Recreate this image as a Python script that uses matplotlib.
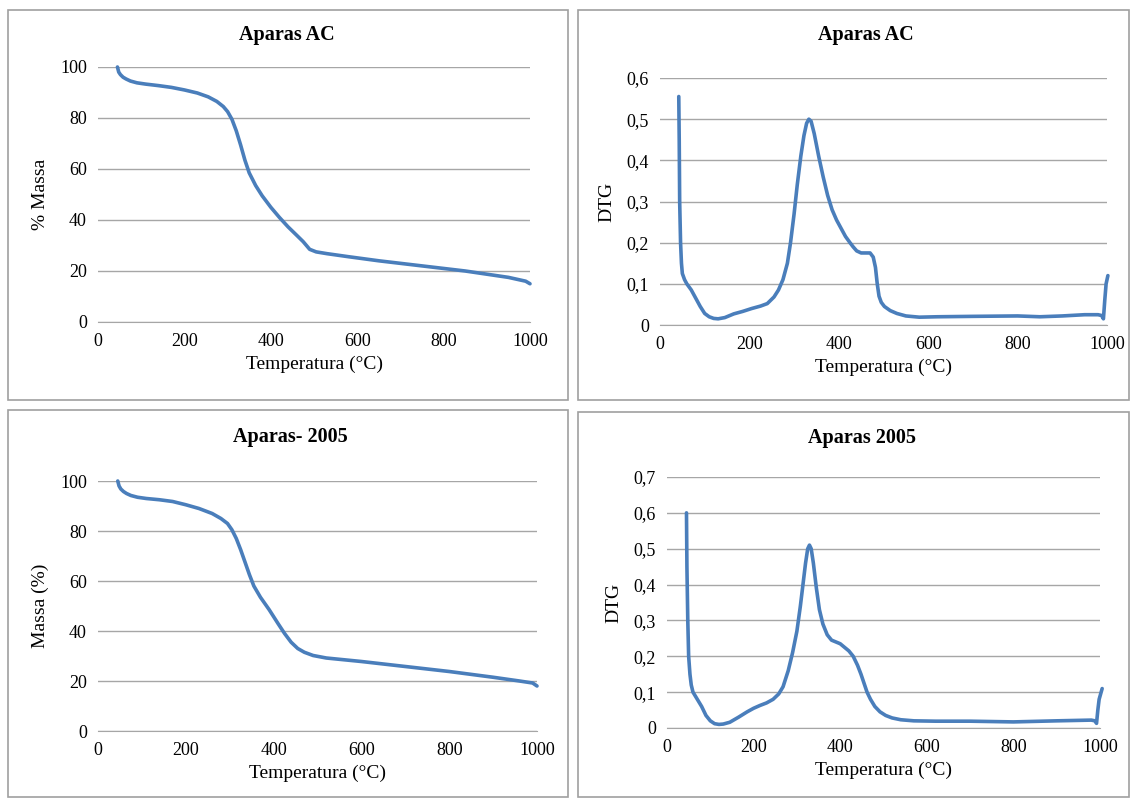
import numpy as np
import matplotlib.pyplot as plt
from matplotlib.patches import Rectangle

plt.rcParams['font.family'] = ['Liberation Serif', 'DejaVu Serif']

W, H = 1131, 798
blue = '#4a7ebb'
grid = '#a6a6a6'

# TGA - Aparas AC
t1 = [45, 48, 52, 58, 65, 75, 90, 110, 140, 170, 200, 230, 255, 275, 290, 300, 310, 320, 330,
      340, 350, 365, 380, 400, 420, 440, 460, 475, 490, 505, 530, 580, 650, 750, 850, 950, 990, 1000]
m1 = [100, 98, 97, 96, 95.3, 94.5, 93.8, 93.3, 92.7, 92, 91, 89.8, 88.3, 86.5, 84.5, 82.5, 79.5,
      75, 69.5, 63.5, 58.5, 53.5, 49.5, 45, 41, 37.3, 34, 31.5, 28.5, 27.5, 26.8, 25.6, 24, 22,
      20, 17.5, 16, 15]

# DTG - Aparas AC
t2 = [42, 43, 44, 46, 48, 50, 55, 60, 70, 80, 90, 100, 110, 120, 130, 145, 165, 185, 205, 225,
      240, 255, 265, 275, 285, 292, 300, 307, 315, 322, 328, 333, 338, 345, 355, 365, 375, 385,
      395, 405, 415, 425, 432, 440, 450, 460, 470, 477, 482, 486, 490, 495, 502, 515, 530, 550,
      580, 620, 700, 800, 850, 900, 950, 980, 988, 992, 995, 998, 1002]
d2 = [0.555, 0.45, 0.3, 0.2, 0.15, 0.125, 0.11, 0.1, 0.085, 0.065, 0.045, 0.028, 0.02, 0.016,
      0.015, 0.018, 0.027, 0.033, 0.04, 0.046, 0.052, 0.068, 0.085, 0.11, 0.15, 0.2, 0.27, 0.34,
      0.41, 0.46, 0.49, 0.5, 0.495, 0.465, 0.41, 0.36, 0.315, 0.28, 0.255, 0.235, 0.215, 0.2,
      0.19, 0.18, 0.175, 0.175, 0.175, 0.165, 0.14, 0.1, 0.07, 0.055, 0.045, 0.035, 0.028,
      0.022, 0.019, 0.02, 0.021, 0.022, 0.02, 0.022, 0.025, 0.025, 0.023, 0.015, 0.06, 0.1, 0.12]

# TGA - Aparas 2005
t3 = [45, 48, 52, 58, 65, 75, 90, 110, 140, 170, 200, 230, 260, 280, 295, 305, 315, 325, 335,
      345, 355, 370, 390, 410, 425, 440, 455, 470, 490, 520, 600, 700, 800, 900, 960, 990, 1000]
m3 = [100, 98, 96.8, 95.8, 95, 94.2, 93.5, 93, 92.5, 91.8, 90.5, 89, 87, 85, 83, 80.5, 77, 72.5,
      67.5, 62.5, 58, 53.5, 48.5, 43, 39, 35.5, 33, 31.5, 30.2, 29.2, 27.8, 25.8, 23.8, 21.5,
      20, 19.2, 18]

# DTG - Aparas 2005
t4 = [45, 46, 48, 50, 53, 56, 60, 70, 80, 90, 100, 110, 120, 130, 145, 165, 185, 200, 215, 230,
      245, 258, 268, 280, 290, 300, 308, 315, 320, 325, 329, 333, 338, 345, 352, 360, 370, 380,
      390, 400, 410, 420, 430, 440, 448, 455, 462, 470, 480, 492, 505, 520, 540, 570, 620, 700,
      800, 900, 980, 988, 992, 995, 998, 1005]
d4 = [0.6, 0.45, 0.3, 0.2, 0.15, 0.12, 0.1, 0.08, 0.06, 0.035, 0.02, 0.012, 0.01, 0.011, 0.016,
      0.03, 0.045, 0.055, 0.063, 0.07, 0.08, 0.095, 0.115, 0.16, 0.21, 0.27, 0.34, 0.41, 0.46,
      0.5, 0.51, 0.5, 0.46, 0.39, 0.33, 0.29, 0.26, 0.245, 0.24, 0.235, 0.225, 0.215, 0.2,
      0.175, 0.15, 0.125, 0.1, 0.08, 0.06, 0.045, 0.035, 0.028, 0.023, 0.02, 0.019, 0.019,
      0.017, 0.02, 0.022, 0.02, 0.013, 0.05, 0.08, 0.11]

titles = ['Aparas AC', 'Aparas AC', 'Aparas- 2005', 'Aparas 2005']
ylabels = ['% Massa', 'DTG', 'Massa (%)', 'DTG']
xlabel = 'Temperatura (°C)'
xticks = [0, 200, 400, 600, 800, 1000]
yticks_tga = [0, 20, 40, 60, 80, 100]
yticks_dtg1 = [0, 0.1, 0.2, 0.3, 0.4, 0.5, 0.6]
yticks_dtg2 = [0, 0.1, 0.2, 0.3, 0.4, 0.5, 0.6, 0.7]

fig = plt.figure(figsize=(W / 100, H / 100), dpi=100)

# panel frames (pixels: x0, y0, x1, y1)
frames = [(8, 10, 568, 400), (578, 10, 1129, 400), (8, 410, 568, 797), (578, 412, 1129, 797)]
for x0, y0, x1, y1 in frames:
    fig.patches.append(Rectangle((x0 / W, 1 - y1 / H), (x1 - x0) / W, (y1 - y0) / H,
                                 transform=fig.transFigure, fill=False,
                                 edgecolor='#a0a0a0', lw=1.2))

# axes boxes in pixels: left, top, right, bottom
boxes = [(98, 67, 530, 322), (660, 78, 1107, 325), (98, 481, 537, 731), (667, 477, 1100, 728)]
title_pos = [(287, 35), (866, 35), (290, 437), (862, 438)]
series = [(t1, m1), (t2, d2), (t3, m3), (t4, d4)]
yticks_all = [yticks_tga, yticks_dtg1, yticks_tga, yticks_dtg2]

for i in range(4):
    l, t, r, b = boxes[i]
    ax = fig.add_axes([l / W, 1 - b / H, (r - l) / W, (b - t) / H])
    x, y = series[i]
    ax.plot(x, y, color=blue, lw=2.6, solid_capstyle='round', solid_joinstyle='round',
            clip_on=False)
    yt = yticks_all[i]
    ax.set_xlim(0, 1000)
    ax.set_ylim(yt[0], yt[-1])
    ax.set_xticks(xticks)
    ax.set_yticks(yt)
    if i in (1, 3):
        ax.set_yticklabels([('%g' % v).replace('.', ',') for v in yt])
    ax.yaxis.grid(True, color=grid, lw=1)
    ax.set_axisbelow(True)
    for s in ['top', 'right', 'left']:
        ax.spines[s].set_visible(False)
    ax.spines['bottom'].set_color(grid)
    ax.tick_params(length=0, labelsize=13, pad=8)
    ax.set_xlabel(xlabel, fontsize=14, labelpad=4)
    ax.set_ylabel(ylabels[i], fontsize=14, labelpad=8)
    tx, ty = title_pos[i]
    fig.text(tx / W, 1 - ty / H, titles[i], ha='center', va='center',
             fontsize=14.5, fontweight='bold')

fig.savefig('out.png', dpi=100)
